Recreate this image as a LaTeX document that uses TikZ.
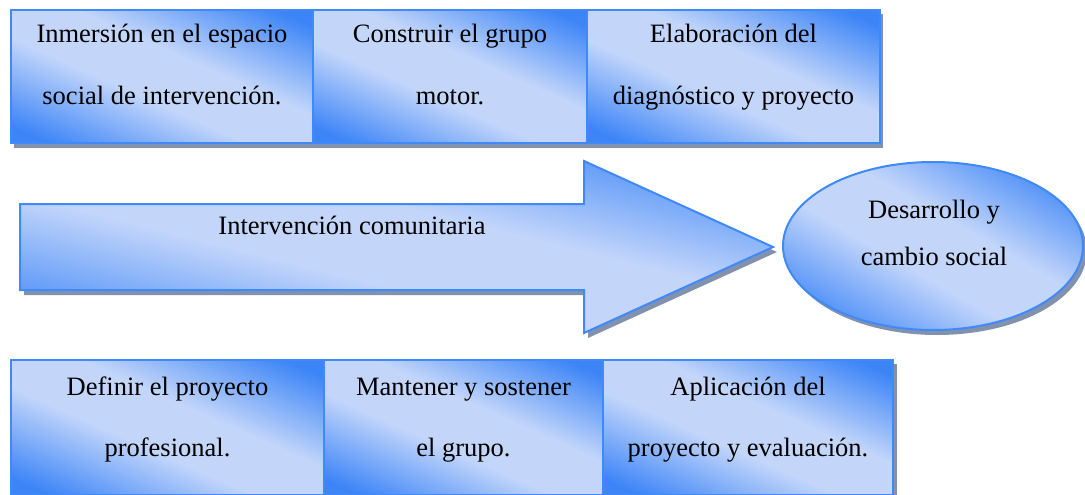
\documentclass[tikz,border=0pt]{standalone}
\usepackage{fontspec}
\setmainfont{Liberation Serif}
\usetikzlibrary{shapes.geometric,calc}
\definecolor{bdark}{HTML}{3D85F7}
\definecolor{blight}{HTML}{C3D6FA}
\definecolor{bline}{HTML}{3F8AF8}
\definecolor{bshadow}{HTML}{8292AE}
\pgfdeclarehorizontalshading{boxshade}{100bp}{color(0bp)=(bdark); color(21bp)=(bdark); color(43bp)=(blight); color(57bp)=(blight); color(79bp)=(bdark); color(100bp)=(bdark)}
\tikzset{
  x=1pt, y=-1pt,
  fillbox/.style={draw=bline, line width=2pt, shading=boxshade, shading angle=66},
  shadowbox/.style={fill=bshadow, draw=none},
  txt/.style={font=\fontsize{26.5}{30}\selectfont, anchor=base, inner sep=0pt}
}
\begin{document}
\begin{tikzpicture}
\useasboundingbox (0,0) rectangle (1085,495);
% ---- top row ----
\fill[bshadow] (14,14) rectangle (883,148);
\node[fillbox, anchor=north west, minimum width=302pt, minimum height=133pt, inner sep=0pt] (t1) at (10,9) {};
\node[fillbox, anchor=north west, minimum width=274pt, minimum height=133pt, inner sep=0pt] (t2) at (312,9) {};
\node[fillbox, anchor=north west, minimum width=293pt, minimum height=133pt, inner sep=0pt] (t3) at (586,9) {};
\node[txt] (t1a) at ($(t1.north)+(0,34)$) {Inmersión en el espacio};
\node[txt] (t1b) at ($(t1.north)+(0,96)$) {social de intervención.};
\node[txt] (t2a) at ($(t2.north)+(0,34)$) {Construir el grupo};
\node[txt] (t2b) at ($(t2.north)+(0,96)$) {motor.};
\node[txt] (t3a) at ($(t3.north)+(0,34)$) {Elaboración del};
\node[txt] (t3b) at ($(t3.north)+(0,96)$) {diagnóstico y proyecto};
% ---- arrow ----
\fill[bshadow] (24,209) -- (588,209) -- (588,166) -- (777,252) -- (588,338) -- (588,295) -- (24,295) -- cycle;
\draw[fillbox, shading angle=76] (20,204) -- (584,204) -- (584,161) -- (773,247) -- (584,333) -- (584,290) -- (20,290) -- cycle;
\node[txt] (arr) at (352,234) {Intervención comunitaria};
% ---- ellipse ----
\fill[bshadow] (937,251) ellipse (150pt and 84pt);
\node[fillbox, shading angle=60, ellipse, minimum width=300pt, minimum height=168pt, inner sep=0pt] (el) at (933,246) {};
\node[txt] (ela) at (934,218) {Desarrollo y};
\node[txt] (elb) at (934,265) {cambio social};
% ---- bottom row ----
\fill[bshadow] (14,364) rectangle (897,500);
\node[fillbox, anchor=north west, minimum width=313pt, minimum height=135pt, inner sep=0pt] (b1) at (10,359) {};
\node[fillbox, anchor=north west, minimum width=279pt, minimum height=135pt, inner sep=0pt] (b2) at (323,359) {};
\node[fillbox, anchor=north west, minimum width=290pt, minimum height=135pt, inner sep=0pt] (b3) at (602,359) {};
\node[txt] (b1a) at ($(b1.north)+(0,36)$) {Definir el proyecto};
\node[txt] (b1b) at ($(b1.north)+(0,97)$) {profesional.};
\node[txt] (b2a) at ($(b2.north)+(0,36)$) {Mantener y sostener};
\node[txt] (b2b) at ($(b2.north)+(0,97)$) {el grupo.};
\node[txt] (b3a) at ($(b3.north)+(0,36)$) {Aplicación del};
\node[txt] (b3b) at ($(b3.north)+(0,97)$) {proyecto y evaluación.};
\end{tikzpicture}
\end{document}
